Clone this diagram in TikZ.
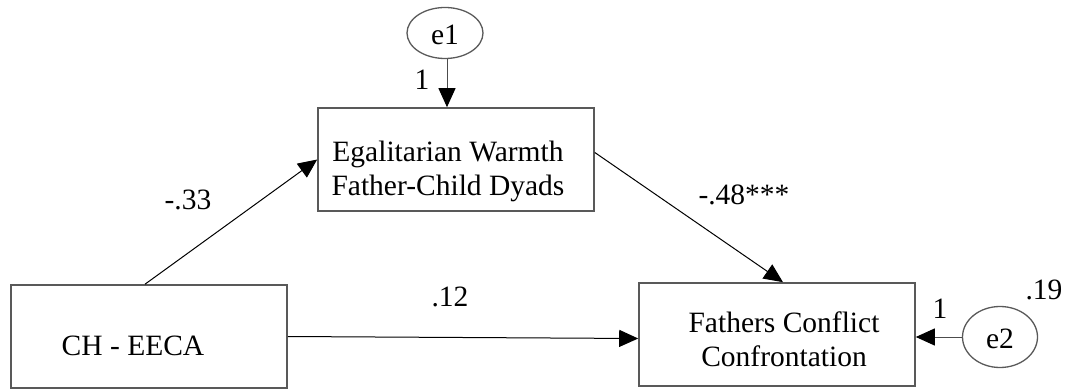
\documentclass[tikz,border=0pt]{standalone}
\usepackage{fontspec}
\setmainfont{Liberation Serif}
\usetikzlibrary{arrows.meta,shapes.geometric}
\begin{document}
\begin{tikzpicture}[x=1pt,y=-1pt,
  box/.style={draw=black!65,line width=1.6pt,minimum width=276pt,minimum height=103pt,inner sep=0pt},
  err/.style={draw=black!65,line width=1.3pt,ellipse,inner sep=0pt},
  txt/.style={font=\fontsize{29.5}{34}\selectfont,align=center,inner sep=0pt},
  conn/.style={line width=1pt,-{Triangle[length=19pt,width=17pt,color=black]}}]
\useasboundingbox (0,0) rectangle (1065,390);
\node[box] (ch) at (149,336.5) {};
\node[box] (egal) at (456,159.5) {};
\node[box] (fa) at (777,334.5) {};
\node[txt] (cht) at (133,346) {CH - EECA};
\node[txt] (egt) at (448,171) {Egalitarian Warmth\\Father-Child Dyads};
\node[txt] (fat) at (784,339) {Fathers Conflict\\Confrontation};
\node[err,minimum width=76pt,minimum height=51pt] (e1) at (445,33) {};
\node[txt] (e1t) at (445,35) {e1};
\node[err,minimum width=75pt,minimum height=61pt] (e2) at (1000,337) {};
\node[txt] (e2t) at (1000,339) {e2};
\draw[conn] ([xshift=-4pt]ch.north) -- (egal.west);
\draw[conn] ([yshift=7pt]egal.east) -- ([xshift=6pt]fa.north);
\draw[conn] (ch.east) -- ([yshift=-4pt]fa.west);
\draw[conn,draw=black!70] ([xshift=2pt]e1.south) -- ([xshift=2pt]e1.south |- egal.north);
\draw[conn,draw=black!70] (e2.west) -- (e2.west -| fa.east);
\node[txt] (l1) at (422,80) {1};
\node[txt] (l33) at (188,200) {-.33};
\node[txt] (l48) at (744,195) {-.48***};
\node[txt] (l12) at (450,297) {.12};
\node[txt] (l2) at (940,309) {1};
\node[txt] (l19) at (1044,290) {.19};
\end{tikzpicture}
\end{document}
